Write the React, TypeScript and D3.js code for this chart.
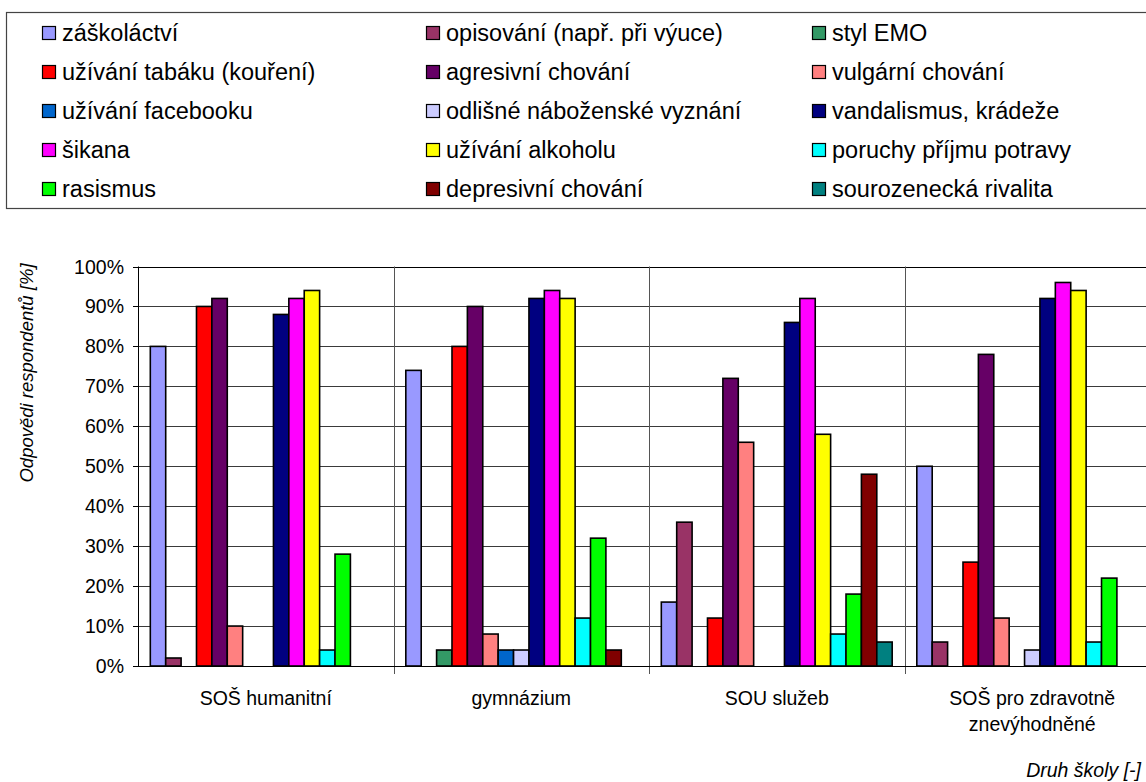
import React from "react";
import * as d3 from "d3";

// Categories (school types), each as its label lines
const categories = ["SOŠ humanitní", "gymnázium", "SOU služeb", "SOŠ pro zdravotně znevýhodněné"];
const categoryLines = [["SOŠ humanitní"], ["gymnázium"], ["SOU služeb"], ["SOŠ pro zdravotně", "znevýhodněné"]];

// Series (phenomena) in legend / bar order
const seriesNames = [
  "záškoláctví",
  "opisování (např. při výuce)",
  "styl EMO",
  "užívání tabáku (kouření)",
  "agresivní chování",
  "vulgární chování",
  "užívání facebooku",
  "odlišné náboženské vyznání",
  "vandalismus, krádeže",
  "šikana",
  "užívání alkoholu",
  "poruchy příjmu potravy",
  "rasismus",
  "depresivní chování",
  "sourozenecká rivalita",
];

const seriesColors = [
  "#9999FF", "#993366", "#339966", "#FF0000", "#660066",
  "#FF8080", "#0066CC", "#CCCCFF", "#000080", "#FF00FF",
  "#FFFF00", "#00FFFF", "#00FF00", "#800000", "#008080",
];

// Share of respondents [%] per series, one value per category
const zaskolactvi = [80, 74, 16, 50];
const opisovani = [2, 0, 36, 6];
const stylEmo = [0, 4, 0, 0];
const tabak = [90, 80, 12, 26];
const agresivni = [92, 90, 72, 78];
const vulgarni = [10, 8, 56, 12];
const facebook = [0, 4, 0, 0];
const nabozenstvi = [0, 4, 0, 4];
const vandalismus = [88, 92, 86, 92];
const sikana = [92, 94, 92, 96];
const alkohol = [94, 92, 58, 94];
const poruchyPrijmu = [4, 12, 8, 6];
const rasismus = [28, 32, 18, 22];
const depresivni = [0, 4, 48, 0];
const rivalita = [0, 0, 6, 0];

const seriesValues = [
  zaskolactvi, opisovani, stylEmo, tabak, agresivni, vulgarni, facebook,
  nabozenstvi, vandalismus, sikana, alkohol, poruchyPrijmu, rasismus, depresivni, rivalita,
];

const yTicks = [0, 10, 20, 30, 40, 50, 60, 70, 80, 90, 100];

const W = 1146;
const H = 782;
const FONT = "'Liberation Sans', Arial, sans-serif";
const AXIS_FONT = 19.5;
const LEGEND_FONT = 23.5;

export default function App() {
  const plotLeft = 138;
  const plotRight = 1160;
  const plotTop = 266.5;
  const plotBottom = 666;

  const x0 = d3.scaleBand<string>().domain(categories).range([plotLeft, plotRight]).paddingInner(0).paddingOuter(0);
  const x1 = d3
    .scaleBand<number>()
    .domain(d3.range(seriesNames.length))
    .range([0, x0.bandwidth()])
    .paddingInner(0)
    .paddingOuter(0.8);
  const y = d3.scaleLinear().domain([0, 100]).range([plotBottom, plotTop]);

  // legend layout
  const legendCols = [42, 426, 812];
  const legendRow0 = 33;
  const legendRowStep = 39;

  return (
    <div style={{ position: "absolute", left: 0, top: 0 }}>
      <svg width={W} height={H} style={{ display: "block", background: "#fff" }} fontFamily={FONT}>
        <rect x={0} y={0} width={W} height={H} fill="#fff" />

        {/* legend */}
        <rect x={6.5} y={12.5} width={W + 20} height={196} fill="#fff" stroke="#444" strokeWidth={1.2} />
        {seriesNames.map((name, i) => {
          const col = i % 3;
          const row = Math.floor(i / 3);
          const cy = legendRow0 + row * legendRowStep;
          const lx = legendCols[col];
          return (
            <g key={name}>
              <rect x={lx + 0.5} y={cy - 6.5} width={13} height={13} fill={seriesColors[i]} stroke="#000" strokeWidth={1.2} />
              <text x={lx + 20} y={cy + 8} fontSize={LEGEND_FONT} fill="#000">
                {name}
              </text>
            </g>
          );
        })}

        {/* horizontal gridlines */}
        {yTicks.map((t) => (
          <line
            key={"g" + t}
            x1={plotLeft}
            x2={plotRight}
            y1={Math.round(y(t)) + 0.5}
            y2={Math.round(y(t)) + 0.5}
            stroke={t === 100 ? "#000" : "#3a3a3a"}
            strokeWidth={1}
          />
        ))}

        {/* category separators */}
        {categories.slice(1).map((c) => {
          const xs = Math.round(x0(c) as number) + 0.5;
          return <line key={"s" + c} x1={xs} x2={xs} y1={plotTop} y2={plotBottom + 8} stroke="#555" strokeWidth={1} />;
        })}

        {/* bars */}
        {categories.map((c, ci) => (
          <g key={"bars" + c} transform={`translate(${x0(c)},0)`}>
            {seriesValues.map((vals, si) => {
              const v = vals[ci];
              if (!v) return null;
              return (
                <rect
                  key={si}
                  x={x1(si) as number}
                  y={y(v)}
                  width={x1.bandwidth()}
                  height={y(0) - y(v)}
                  fill={seriesColors[si]}
                  stroke="#000"
                  strokeWidth={1.6}
                />
              );
            })}
          </g>
        ))}

        {/* y axis */}
        <line x1={plotLeft + 0.5} x2={plotLeft + 0.5} y1={plotTop} y2={plotBottom + 0.5} stroke="#000" strokeWidth={1} />
        {yTicks.map((t) => (
          <g key={"t" + t}>
            <line
              x1={plotLeft - 5}
              x2={plotLeft}
              y1={Math.round(y(t)) + 0.5}
              y2={Math.round(y(t)) + 0.5}
              stroke="#000"
              strokeWidth={1}
            />
            <text x={124} y={y(t) + 7} fontSize={AXIS_FONT} textAnchor="end" fill="#000">
              {t}%
            </text>
          </g>
        ))}
        <line x1={plotLeft} x2={plotRight} y1={plotBottom + 0.5} y2={plotBottom + 0.5} stroke="#000" strokeWidth={1} />

        {/* category labels */}
        {categories.map((c, ci) => (
          <text key={"c" + c} x={(x0(c) as number) + x0.bandwidth() / 2} y={705} fontSize={AXIS_FONT} textAnchor="middle" fill="#000">
            {categoryLines[ci].map((line, li) => (
              <tspan key={li} x={(x0(c) as number) + x0.bandwidth() / 2} dy={li === 0 ? 0 : 26}>
                {line}
              </tspan>
            ))}
          </text>
        ))}

        {/* axis titles */}
        <text
          transform={`translate(33,373) rotate(-90)`}
          fontSize={18.5}
          fontStyle="italic"
          textAnchor="middle"
          fill="#000"
        >
          Odpovědi respondentů [%]
        </text>
        <text x={1141} y={777} fontSize={AXIS_FONT} fontStyle="italic" textAnchor="end" fill="#000">
          Druh školy [-]
        </text>
      </svg>
    </div>
  );
}
